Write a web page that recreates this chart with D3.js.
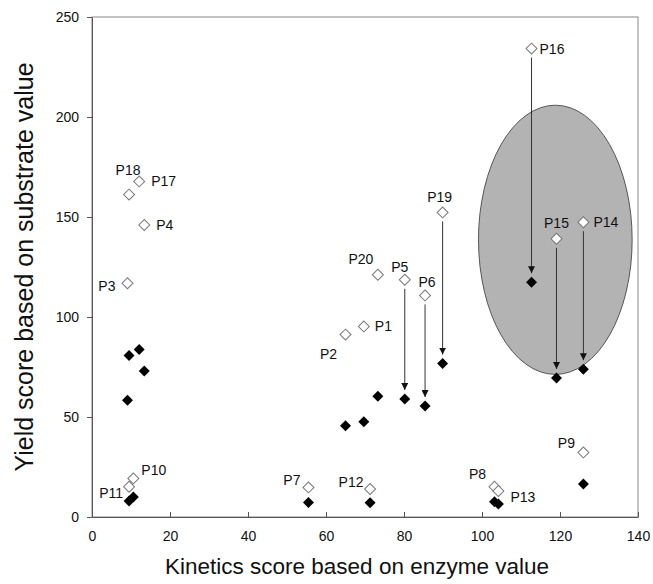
<!DOCTYPE html>
<html>
<head>
<meta charset="utf-8">
<script src="https://cdn.jsdelivr.net/npm/d3@7"></script>
<style>
  body { margin: 0; background: #fff; }
  text { font-family: "Liberation Sans", Arial, sans-serif; }
</style>
</head>
<body>
<div id="chart"></div>
<script>
// Yield vs kinetics scores, before (open) and after (filled)

var names   = ["P1","P2","P3","P4","P5","P6","P7","P8","P9","P10",
               "P11","P12","P13","P14","P15","P16","P17","P18","P19","P20"];
var kinetics = [69.7, 65.0, 9.1, 13.4, 80.2, 85.4, 55.5, 103.2, 126.0, 10.6,
                9.5, 71.3, 104.2, 126.0, 119.1, 112.7, 12.1, 9.5, 89.9, 73.3];
var yieldBefore = [95.3, 91.2, 116.9, 146.0, 118.6, 110.8, 14.8, 15.1, 32.3, 19.3,
                   15.1, 14.0, 13.0, 147.4, 139.1, 234.2, 167.8, 161.2, 152.3, 121.1];
var yieldAfter  = [47.6, 45.6, 58.4, 73.0, 59.0, 55.5, 7.3, 7.6, 16.5, 10.0,
                   8.0, 7.1, 6.5, 73.9, 69.5, 117.4, 83.8, 80.8, 76.7, 60.4];
// points that get an arrow from before to after
var arrowed = ["P5","P6","P14","P15","P16","P19"];

var xTicks = [0, 20, 40, 60, 80, 100, 120, 140];
var yTicks = [0, 50, 100, 150, 200, 250];

// where each label sits relative to its open marker
var labelPos = {
  P1: ["start", 11, 0], P2: ["middle", -17, 19], P3: ["end", -12, 3],
  P4: ["start", 12, 0], P5: ["middle", -5, -13], P6: ["middle", 2, -13],
  P7: ["end", -8, -7], P8: ["middle", -17, -13], P9: ["middle", -17, -9],
  P10: ["start", 8, -8], P11: ["end", -6, 6], P12: ["middle", -19, -7],
  P13: ["start", 12, 6], P14: ["start", 10, 0], P15: ["middle", 0, -16],
  P16: ["start", 8, 0], P17: ["start", 12, 0], P18: ["middle", -1, -25],
  P19: ["middle", -3, -15], P20: ["middle", -17, -16]
};

var margin = {top: 17, right: 15, bottom: 67, left: 92},
  width = 653 - margin.left - margin.right,
  height = 584 - margin.top - margin.bottom;

var svg = d3.select("#chart")
  .append("svg")
    .attr("width", 653)
    .attr("height", 584)
  .append("g")
    .attr("transform", "translate(" + margin.left + "," + margin.top + ")");

var x = d3.scaleLinear().domain([0, 140]).range([0, width]);
var y = d3.scaleLinear().domain([0, 250]).range([height, 0]);

var defs = svg.append("defs");
defs.append("marker")
    .attr("id", "head")
    .attr("viewBox", "0 0 10 10")
    .attr("refX", 10)
    .attr("refY", 5)
    .attr("markerWidth", 7)
    .attr("markerHeight", 7)
    .attr("markerUnits", "userSpaceOnUse")
    .attr("orient", "auto")
  .append("path")
    .attr("d", "M0,0 L10,5 L0,10 Z")
    .attr("fill", "#111");

// frame
svg.append("rect")
    .attr("width", width)
    .attr("height", height)
    .attr("fill", "none")
    .attr("stroke", "#888")
    .attr("stroke-width", 1);

// shaded ellipse around P14-P16
svg.append("ellipse")
    .attr("cx", x(118.8))
    .attr("cy", y(138.6))
    .attr("rx", x(19.7) - x(0))
    .attr("ry", y(0) - y(67.3))
    .attr("fill", "#b3b3b3")
    .attr("stroke", "#555")
    .attr("stroke-width", 1);

// axes
var xAxis = svg.append("g")
    .attr("transform", "translate(0," + height + ")")
    .call(d3.axisBottom(x).tickValues(xTicks).tickSizeInner(-5).tickSizeOuter(0).tickPadding(14));
var yAxis = svg.append("g")
    .call(d3.axisLeft(y).tickValues(yTicks).tickSizeInner(5).tickSizeOuter(0).tickPadding(8));

[xAxis, yAxis].forEach(function(a) {
  a.select(".domain").attr("stroke", "#555");
  a.selectAll(".tick line").attr("stroke", "#555");
  a.selectAll(".tick text")
    .style("font-family", "Liberation Sans, Arial, sans-serif")
    .style("font-size", "14px")
    .attr("fill", "#111");
});

var pts = names.map(function(n, i) {
  return {name: n, x: kinetics[i], before: yieldBefore[i], after: yieldAfter[i]};
});

// arrows
svg.selectAll(".arrow")
  .data(pts.filter(function(d) { return arrowed.indexOf(d.name) >= 0; }))
  .enter()
  .append("line")
    .attr("x1", function(d) { return x(d.x); })
    .attr("x2", function(d) { return x(d.x); })
    .attr("y1", function(d) { return y(d.before) + 9; })
    .attr("y2", function(d) { return y(d.after) - 9; })
    .attr("stroke", "#333")
    .attr("stroke-width", 1)
    .attr("marker-end", "url(#head)");

var diamond = d3.symbol().type(d3.symbolSquare).size(60);

// after (filled)
svg.selectAll(".after")
  .data(pts)
  .enter()
  .append("path")
    .attr("d", diamond)
    .attr("transform", function(d) {
      return "translate(" + x(d.x) + "," + y(d.after) + ") rotate(45)";
    })
    .attr("fill", "#000");

// before (open)
svg.selectAll(".before")
  .data(pts)
  .enter()
  .append("path")
    .attr("d", diamond)
    .attr("transform", function(d) {
      return "translate(" + x(d.x) + "," + y(d.before) + ") rotate(45)";
    })
    .attr("fill", "#fff")
    .attr("stroke", "#777")
    .attr("stroke-width", 1);

// labels
svg.selectAll(".lbl")
  .data(pts)
  .enter()
  .append("text")
    .attr("x", function(d) { return x(d.x) + labelPos[d.name][1]; })
    .attr("y", function(d) { return y(d.before) + labelPos[d.name][2]; })
    .attr("dy", "0.35em")
    .attr("text-anchor", function(d) { return labelPos[d.name][0]; })
    .style("font-size", "14px")
    .attr("fill", "#111")
    .text(function(d) { return d.name; });

// axis titles
svg.append("text")
    .attr("x", width / 2 - 8)
    .attr("y", height + 57)
    .attr("text-anchor", "middle")
    .style("font-size", "22.5px")
    .attr("fill", "#111")
    .text("Kinetics score based on enzyme value");

svg.append("text")
    .attr("transform", "translate(" + (-59) + "," + (height / 2) + ") rotate(-90)")
    .attr("text-anchor", "middle")
    .style("font-size", "25px")
    .attr("fill", "#111")
    .text("Yield score based on substrate value");
</script>
</body>
</html>
